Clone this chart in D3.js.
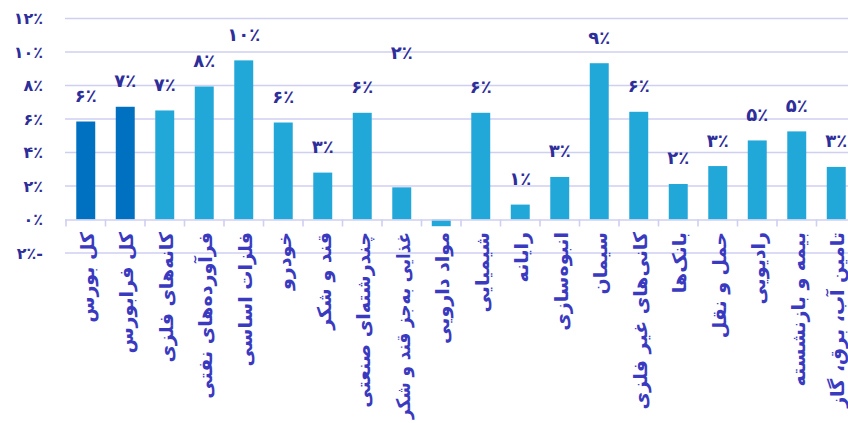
<!DOCTYPE html>
<html lang="fa">
<head>
<meta charset="utf-8">
<script src="https://cdn.jsdelivr.net/npm/d3@7"></script>
<style>
  html, body { margin: 0; padding: 0; background: #fff; }
  svg { display: block; font-family: "DejaVu Sans", sans-serif; }
</style>
</head>
<body>
<svg id="chart" width="848" height="423"></svg>
<script>
// Returns by industry (percent)
const categories = [
  "کل بورس", "کل فرابورس", "کانه‌های فلزی", "فرآورده‌های نفتی", "فلزات اساسی",
  "خودرو", "قند و شکر", "چندرشته‌ای صنعتی", "غذایی به‌جز قند و شکر", "مواد دارویی",
  "شیمیایی", "رایانه", "انبوه‌سازی", "سیمان", "کانی‌های غیر فلزی",
  "بانک‌ها", "حمل و نقل", "رادیویی", "بیمه و بازنشسته", "تامین آب، برق، گاز"
];
const values = [
  5.85, 6.73, 6.51, 7.94, 9.5,
  5.79, 2.8, 6.37, 1.92, -0.4,
  6.37, 0.89, 2.54, 9.33, 6.43,
  2.12, 3.19, 4.72, 5.26, 3.14
];
// the two market totals are drawn in a darker blue
const totals = ["کل بورس", "کل فرابورس"];
const yTicks = [-2, 0, 2, 4, 6, 8, 10, 12];

const W = 848, H = 423;
const svg = d3.select("#chart");
const fa = n => String(n).replace(/\d/g, d => "۰۱۲۳۴۵۶۷۸۹"[d]);
const pct = n => (n < 0 ? fa(-n) + "٪-" : fa(n) + "٪");

const x = d3.scaleBand()
  .domain(categories)
  .range([66, 856])
  .paddingInner(0.52)
  .paddingOuter(0.26);

const y = d3.scaleLinear().domain([-2, 12]).range([253, 18.5]);

// horizontal gridlines
svg.append("g").selectAll("line")
  .data(yTicks.filter(t => t !== 0))
  .join("line")
  .attr("x1", 65).attr("x2", W)
  .attr("y1", d => y(d)).attr("y2", d => y(d))
  .attr("stroke", "#cfcff2").attr("stroke-width", 1.6);

// y tick labels
svg.append("g").selectAll("text")
  .data(yTicks)
  .join("text")
  .attr("x", 43).attr("y", d => y(d))
  .attr("text-anchor", "end")
  .attr("dominant-baseline", "central")
  .attr("direction", "ltr").attr("unicode-bidi", "bidi-override")
  .attr("font-size", 16).attr("font-weight", "bold")
  .attr("fill", "#2e2e9a")
  .text(d => pct(d));

// bars
svg.append("g").selectAll("rect")
  .data(categories)
  .join("rect")
  .attr("x", d => x(d))
  .attr("width", x.bandwidth())
  .attr("y", (d, i) => y(Math.max(0, values[i])))
  .attr("height", (d, i) => Math.abs(y(values[i]) - y(0)))
  .attr("fill", d => totals.includes(d) ? "#0070c0" : "#21a7d8");

// x axis with ticks between categories
const xAxis = svg.append("g");
xAxis.append("line")
  .attr("x1", 65).attr("x2", W)
  .attr("y1", y(0) + 0.5).attr("y2", y(0) + 0.5)
  .attr("stroke", "#cfcff2").attr("stroke-width", 1.6);
xAxis.selectAll("line.tick")
  .data(d3.range(categories.length + 1))
  .join("line")
  .attr("class", "tick")
  .attr("x1", i => x.range()[0] + i * x.step())
  .attr("x2", i => x.range()[0] + i * x.step())
  .attr("y1", y(0)).attr("y2", y(0) + 7)
  .attr("stroke", "#cfcff2").attr("stroke-width", 1.6);

// category labels, rotated; long ones are squeezed to fit above the bottom edge
const labelTop = 232;
const maxLen = H - labelTop - 4;
svg.append("g").selectAll("text")
  .data(categories)
  .join("text")
  .attr("transform", d => `translate(${x(d) + x.bandwidth() / 2 + 1},${labelTop}) rotate(-90)`)
  .attr("text-anchor", "end")
  .attr("dominant-baseline", "central")
  .attr("font-size", 19).attr("font-weight", "bold")
  .attr("fill", "#3a3ac0")
  .text(d => d)
  .each(function () {
    if (this.getComputedTextLength() > maxLen) {
      d3.select(this)
        .attr("textLength", maxLen)
        .attr("lengthAdjust", "spacingAndGlyphs");
    }
  });

// value labels above the bars; one label sits higher up
const labelHeight = new Map([["غذایی به‌جز قند و شکر", 9.95]]);
svg.append("g").selectAll("text")
  .data(categories.filter((d, i) => values[i] >= 0))
  .join("text")
  .attr("x", d => x(d) + x.bandwidth() / 2)
  .attr("y", d => labelHeight.has(d)
    ? y(labelHeight.get(d))
    : y(values[categories.indexOf(d)]) - 26)
  .attr("text-anchor", "middle")
  .attr("dominant-baseline", "central")
  .attr("direction", "ltr").attr("unicode-bidi", "bidi-override")
  .attr("font-size", 18).attr("font-weight", "bold")
  .attr("fill", "#2e2e9a")
  .text(d => pct(Math.round(values[categories.indexOf(d)])));
</script>
</body>
</html>
